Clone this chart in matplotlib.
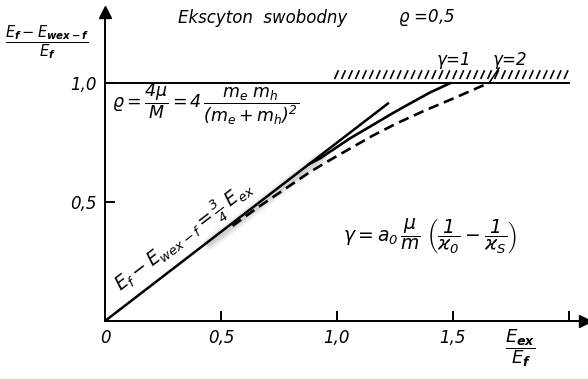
import numpy as np
import matplotlib
matplotlib.use("Agg")
import matplotlib.pyplot as plt
from matplotlib.collections import LineCollection

plt.rcParams['font.family'] = ['DejaVu Sans']
plt.rcParams['font.style'] = 'italic'
plt.rcParams['mathtext.fontset'] = 'custom'
plt.rcParams['mathtext.rm'] = 'DejaVu Sans:italic'
plt.rcParams['mathtext.it'] = 'DejaVu Sans:italic'
plt.rcParams['mathtext.bf'] = 'DejaVu Sans:bold:italic'

# E_f - E_wex-f = 3/4 E_ex (low-energy asymptote)
x_lin = [0.0, 1.22]
y_lin = [0.0, 0.915]

# gamma = 1 (solid)
x_g1 = [0.88, 0.927, 1.056, 1.157, 1.24, 1.315, 1.401, 1.487]
y_g1 = [0.660, 0.684, 0.768, 0.826, 0.874, 0.915, 0.961, 1.000]

# gamma = 2 (dashed)
x_g2 = [0.55, 0.655, 0.884, 0.97, 1.056, 1.157, 1.257, 1.371, 1.516, 1.616, 1.655]
y_g2 = [0.400, 0.475, 0.627, 0.677, 0.725, 0.781, 0.831, 0.882, 0.942, 0.985, 1.000]

xticks = [0, 0.5, 1.0, 1.5, 2.0]
xtick_labels = ['0', '0,5', '1,0', '1,5', '']
yticks = [0.5, 1.0]
ytick_labels = ['0,5', '1,0']

# hatched band above E = E_f
hatch_x0, hatch_x1, hatch_step = 0.99, 1.99, 0.03

fig = plt.figure(figsize=(5.88, 3.79), dpi=100)
ax = fig.add_axes([105 / 588, 58 / 379, 480 / 588, 309 / 379])
ax.set_xlim(0, 2.07)
ax.set_ylim(0, 1.30)

for s in ['top', 'right']:
    ax.spines[s].set_visible(False)
for s in ['left', 'bottom']:
    ax.spines[s].set_linewidth(1.4)
ax.plot(1, 0, '>k', transform=ax.transAxes, clip_on=False, markersize=8)
ax.plot(0, 1, '^k', transform=ax.transAxes, clip_on=False, markersize=8)

ax.set_xticks(xticks)
ax.set_xticklabels(xtick_labels, fontsize=12)
ax.set_yticks(yticks)
ax.set_yticklabels(ytick_labels, fontsize=12)
ax.tick_params(direction='in', length=7, width=1.4, pad=6)

ax.plot([0, 2.0], [1.0, 1.0], color='k', lw=1.4)
hx = np.arange(hatch_x0, hatch_x1, hatch_step)
segs = [[(x, 1.018), (x + 0.017, 1.055)] for x in hx]
ax.add_collection(LineCollection(segs, colors='k', linewidths=1.2))

# smudge of the print along the asymptote
xs = np.array([0.45, 0.93])
for lw, a in [(10, 0.07), (7, 0.12), (4, 0.2)]:
    ax.plot(xs, 0.75 * xs - 0.012, color='gray', lw=lw, alpha=a, solid_capstyle='round')

ax.plot(x_lin, y_lin, color='k', lw=1.8)
ax.plot(x_g1, y_g1, color='k', lw=1.9, solid_joinstyle='round')
ax.plot(x_g2, y_g2, color='k', lw=1.9, linestyle=(0, (4, 2.2)))

# labels
fig.text(178 / 588, 1 - 18 / 379, 'Ekscyton  swobodny', fontsize=12, va='center')
fig.text(398 / 588, 1 - 18 / 379, r'$\varrho$ =0,5', fontsize=12, va='center')
fig.text(47 / 588, 1 - 42 / 379, r'$\dfrac{E_\mathbf{f}-E_\mathbf{wex-f}}{E_\mathbf{f}}$',
         fontsize=10.5, ha='center', va='center')
ax.text(1.79, -0.115, r'$\dfrac{E_\mathbf{ex}}{E_\mathbf{f}}$', fontsize=13,
        ha='center', va='center', clip_on=False)

ax.text(1.5, 1.097, r'$\gamma$=1', fontsize=12, ha='center', va='center')
ax.text(1.745, 1.097, r'$\gamma$=2', fontsize=12, ha='center', va='center')
ax.plot([1.655, 1.70], [1.0, 1.065], color='k', lw=1.1)

ax.text(0.03, 0.91, r'$\varrho=\dfrac{4\mu}{M}=4\,\dfrac{m_e\;m_h}{(m_e+m_h)^2}$',
        fontsize=12.5, ha='left', va='center')
ax.text(0.345, 0.355, r'$E_f-E_{wex-f}=\frac{3}{4}\;E_{ex}$', fontsize=13.5,
        rotation=37.5, ha='center', va='center', rotation_mode='anchor')
ax.text(1.40, 0.357,
        r'$\gamma=a_0\,\dfrac{\mu}{m}\;\left(\dfrac{1}{\varkappa_0}-\dfrac{1}{\varkappa_S}\right)$',
        fontsize=13.5, ha='center', va='center')

fig.savefig('out.png', dpi=100)
